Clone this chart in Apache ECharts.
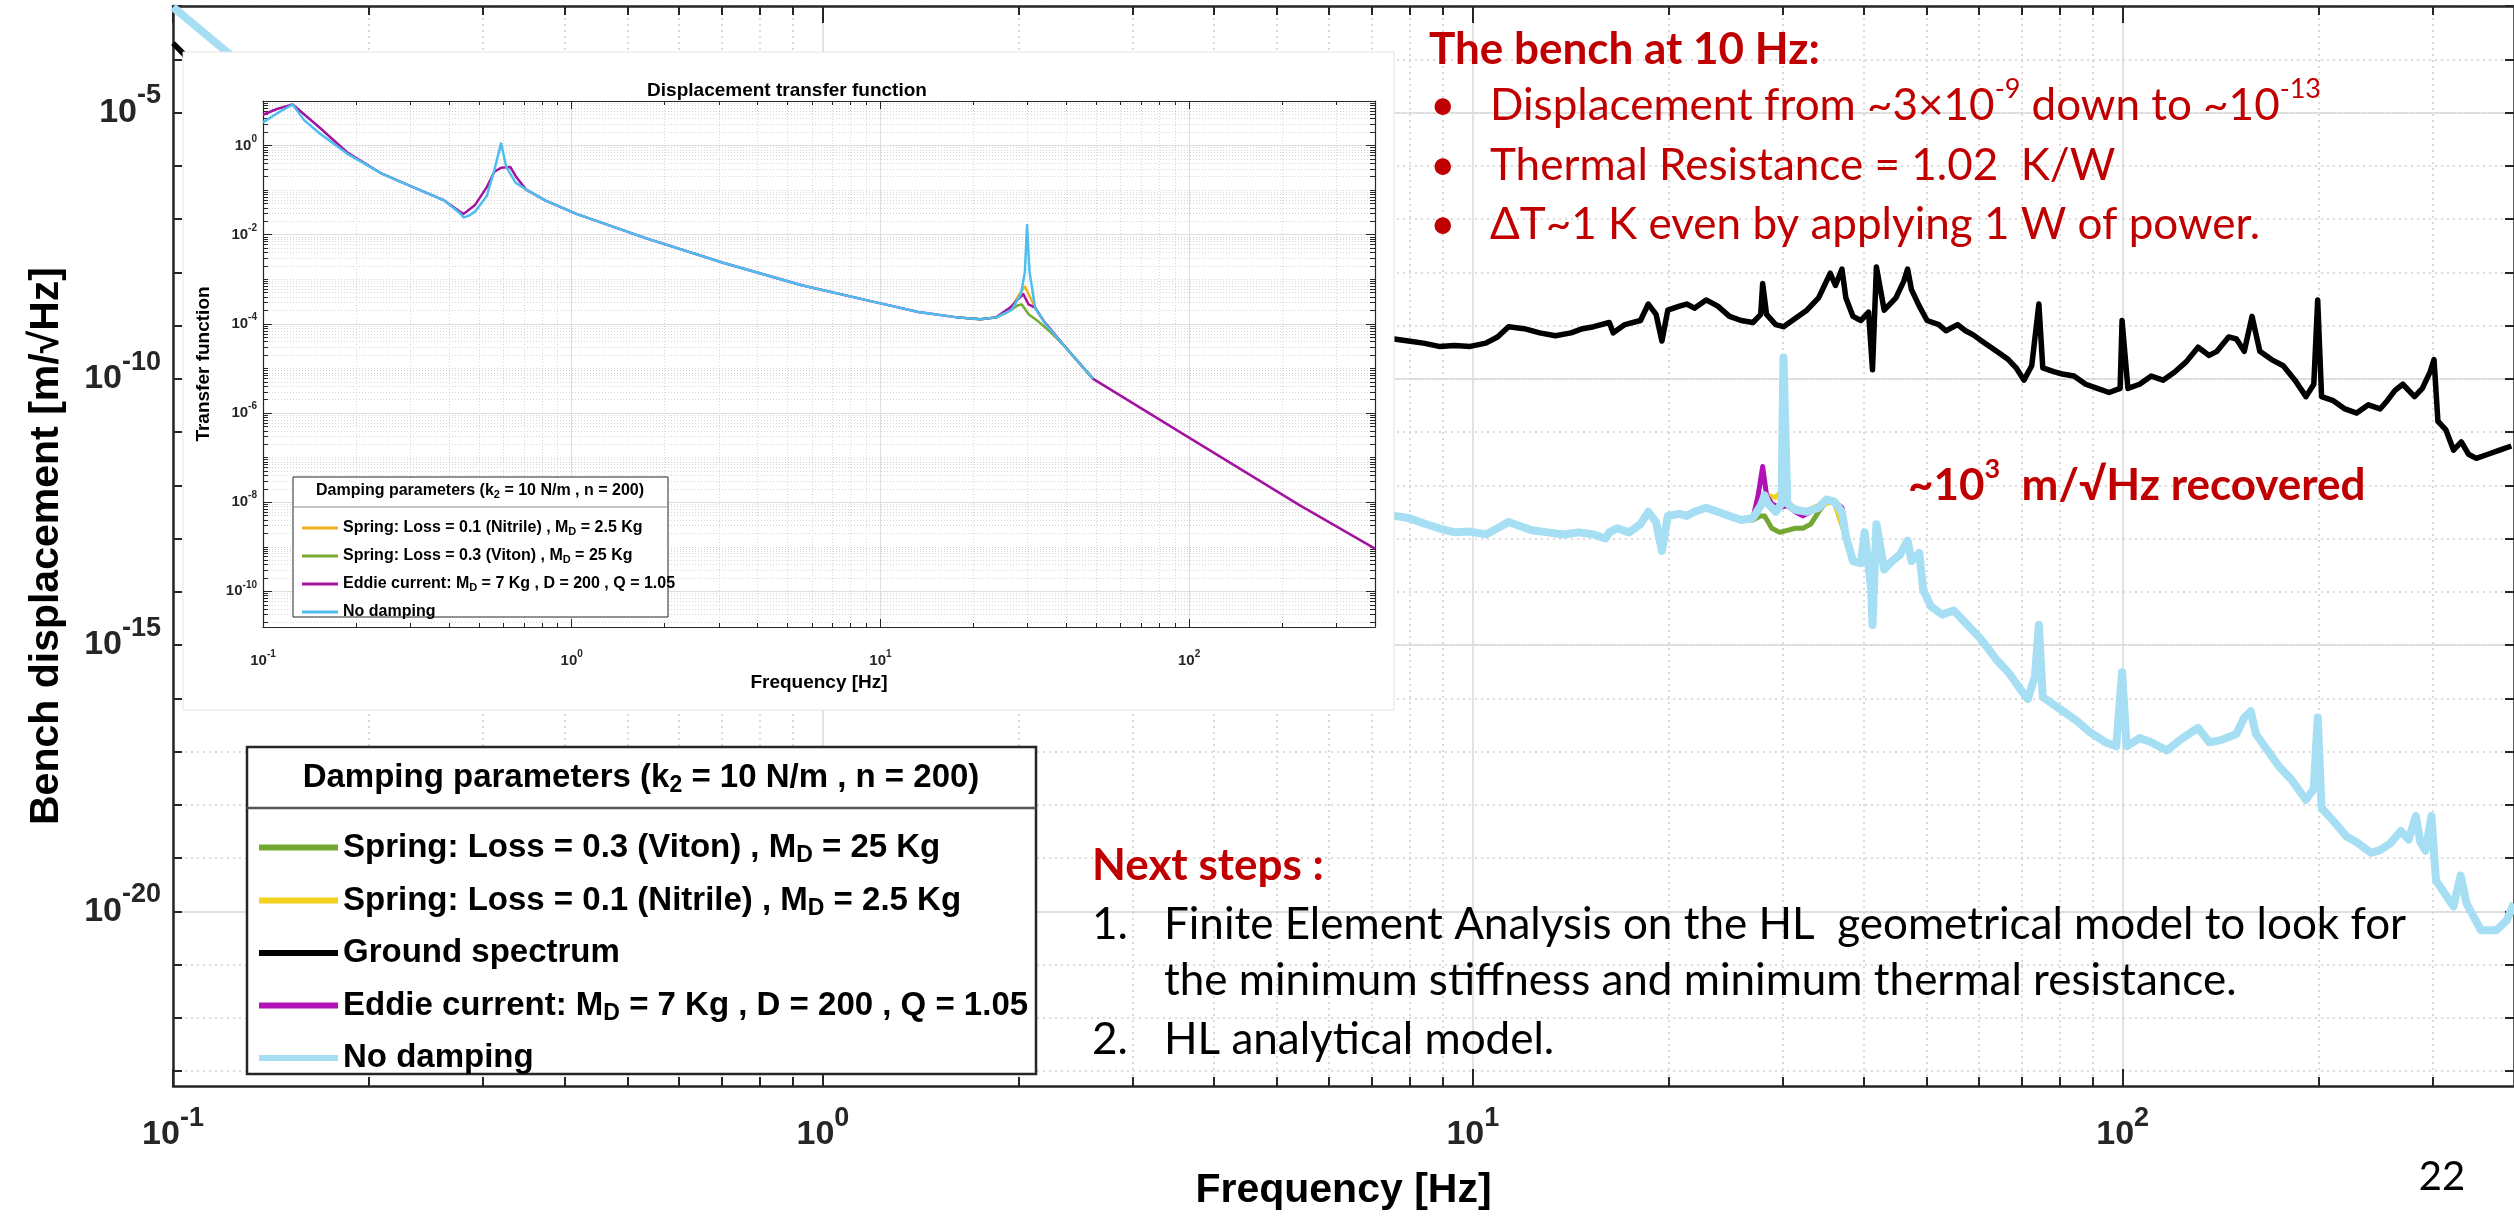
<!DOCTYPE html>
<html><head><meta charset="utf-8">
<script src="https://cdn.jsdelivr.net/npm/echarts@6/dist/echarts.min.js"></script>
<style>html,body{margin:0;padding:0;background:#fff;}#c{width:2514px;height:1216px;}</style>
</head><body><div id="c"></div>
<script>
// ===================== DATA =====================
// All values are log10: x = log10(frequency / Hz), y = log10(value).
// ---- Main plot: bench displacement [m/sqrt(Hz)] ----
const groundLogF = [-1.000,-0.985,-0.966,-0.500,0.860,0.879,0.901,0.924,0.948,0.972,0.996,1.020,1.038,1.055,1.079,1.103,1.127,1.151,1.169,1.186,1.210,1.216,1.234,1.258,1.270,1.282,1.291,1.300,1.318,1.329,1.341,1.359,1.377,1.395,1.413,1.431,1.443,1.446,1.452,1.466,1.478,1.496,1.514,1.532,1.550,1.558,1.568,1.574,1.585,1.597,1.609,1.615,1.621,1.633,1.651,1.663,1.669,1.675,1.687,1.699,1.717,1.728,1.746,1.758,1.770,1.788,1.806,1.824,1.836,1.848,1.860,1.871,1.877,1.895,1.907,1.925,1.943,1.961,1.979,1.996,1.999,2.008,2.026,2.044,2.062,2.080,2.098,2.116,2.133,2.145,2.163,2.175,2.187,2.199,2.211,2.229,2.247,2.265,2.282,2.294,2.300,2.306,2.324,2.342,2.360,2.378,2.396,2.407,2.419,2.431,2.449,2.461,2.473,2.479,2.485,2.497,2.509,2.521,2.532,2.544,2.562,2.580,2.598];
const groundLogD = [-3.696,-3.882,-4.200,null,-9.240,-9.253,-9.291,-9.330,-9.392,-9.376,-9.392,-9.330,-9.214,-9.021,-9.059,-9.137,-9.191,-9.137,-9.059,-9.021,-8.943,-9.137,-8.982,-8.905,-8.596,-8.789,-9.291,-8.712,-8.635,-8.596,-8.673,-8.519,-8.635,-8.828,-8.905,-8.943,-8.789,-8.210,-8.789,-8.982,-9.021,-8.866,-8.712,-8.480,-8.017,-8.248,-7.939,-8.480,-8.828,-8.905,-8.750,-9.832,-7.901,-8.712,-8.480,-8.171,-7.939,-8.326,-8.635,-8.905,-8.982,-9.098,-8.982,-9.098,-9.175,-9.330,-9.484,-9.639,-9.793,-10.025,-9.755,-8.596,-9.793,-9.871,-9.909,-9.948,-10.102,-10.180,-10.257,-10.180,-8.905,-10.180,-10.102,-9.948,-10.025,-9.871,-9.677,-9.407,-9.561,-9.484,-9.214,-9.253,-9.484,-8.828,-9.484,-9.639,-9.755,-10.025,-10.334,-10.102,-8.519,-10.334,-10.411,-10.566,-10.643,-10.489,-10.566,-10.411,-10.218,-10.102,-10.334,-10.180,-9.871,-9.639,-10.797,-10.952,-11.338,-11.184,-11.416,-11.493,-11.416,-11.338,-11.261];

const noDampLogF = [-1.000,-0.917,-0.882,-0.500,0.860,0.879,0.901,0.924,0.948,0.972,0.996,1.020,1.038,1.055,1.073,1.091,1.115,1.139,1.163,1.186,1.204,1.210,1.222,1.240,1.258,1.270,1.282,1.291,1.300,1.318,1.329,1.341,1.359,1.377,1.395,1.413,1.431,1.443,1.449,1.454,1.466,1.475,1.478,1.484,1.496,1.514,1.532,1.544,1.556,1.568,1.574,1.585,1.597,1.603,1.613,1.615,1.621,1.633,1.645,1.657,1.669,1.675,1.687,1.693,1.705,1.722,1.740,1.752,1.770,1.782,1.794,1.806,1.824,1.842,1.854,1.865,1.871,1.877,1.895,1.913,1.931,1.949,1.973,1.990,1.999,2.006,2.026,2.044,2.068,2.092,2.116,2.133,2.151,2.175,2.187,2.197,2.205,2.223,2.241,2.259,2.282,2.294,2.300,2.306,2.324,2.345,2.360,2.382,2.396,2.411,2.428,2.440,2.451,2.458,2.466,2.475,2.482,2.509,2.520,2.529,2.551,2.575,2.591,2.602];
const noDampLogD = [-3.020,-3.863,-4.240,null,-12.570,-12.574,-12.613,-12.713,-12.806,-12.883,-12.868,-12.922,-12.806,-12.690,-12.767,-12.845,-12.883,-12.922,-12.883,-12.922,-12.999,-12.883,-12.806,-12.883,-12.729,-12.497,-12.690,-13.231,-12.574,-12.536,-12.574,-12.497,-12.420,-12.497,-12.574,-12.651,-12.613,-12.381,-12.188,-12.343,-12.497,-12.343,-9.600,-12.343,-12.459,-12.497,-12.420,-12.265,-12.304,-12.497,-12.960,-13.424,-13.463,-12.883,-13.965,-14.621,-12.729,-13.579,-13.424,-13.308,-13.038,-13.424,-13.269,-13.965,-14.274,-14.428,-14.351,-14.506,-14.737,-14.892,-15.085,-15.278,-15.510,-15.819,-16.012,-15.587,-14.621,-15.973,-16.128,-16.282,-16.437,-16.630,-16.823,-16.900,-15.510,-16.900,-16.746,-16.823,-16.978,-16.746,-16.553,-16.823,-16.784,-16.669,-16.360,-16.244,-16.669,-16.978,-17.286,-17.518,-17.904,-17.700,-16.360,-18.059,-18.300,-18.600,-18.700,-18.900,-18.850,-18.730,-18.490,-18.650,-18.210,-18.700,-18.860,-18.210,-19.421,-19.906,-19.328,-19.850,-20.353,-20.353,-20.167,-19.850];

const vitonLogF = [1.413,1.431,1.443,1.449,1.460,1.472,1.484,1.496,1.508,1.520,1.532,1.544,1.556,1.574];
const vitonLogD = [-12.651,-12.650,-12.574,-12.574,-12.806,-12.883,-12.845,-12.806,-12.806,-12.729,-12.497,-12.304,-12.304,-12.960];
const nitrileLogF = [1.413,1.431,1.443,1.454,1.466,1.472,1.478,1.490,1.508,1.532,1.556,1.574];
const nitrileLogD = [-12.651,-12.613,-12.420,-12.188,-12.227,-12.150,-12.265,-12.381,-12.497,-12.381,-12.304,-12.960];
const eddieLogF = [1.413,1.431,1.439,1.446,1.452,1.460,1.472,1.484,1.496,1.508,1.520,1.532,1.544,1.556,1.568,1.574];
const eddieLogD = [-12.651,-12.613,-12.188,-11.647,-12.188,-12.343,-12.420,-12.381,-12.497,-12.574,-12.497,-12.381,-12.265,-12.304,-12.420,-12.960];

// ---- Inset: displacement transfer function ----
const tfNoDampLogF = [-1.000,-0.955,-0.904,-0.867,-0.816,-0.728,-0.615,-0.514,-0.413,-0.363,-0.350,-0.333,-0.313,-0.275,-0.250,-0.229,-0.212,-0.182,-0.149,-0.086,0.015,0.242,0.493,0.745,0.997,1.123,1.249,1.324,1.375,1.425,1.455,1.468,1.475,1.483,1.501,1.538,1.601,1.689];
const tfNoDampLogT = [0.520,0.721,0.921,0.571,0.270,-0.180,-0.631,-0.931,-1.231,-1.512,-1.612,-1.572,-1.481,-1.131,-0.531,0.050,-0.480,-0.831,-0.981,-1.231,-1.532,-2.082,-2.633,-3.133,-3.534,-3.734,-3.854,-3.894,-3.854,-3.684,-3.333,-2.833,-1.782,-2.833,-3.634,-4.034,-4.535,-5.235];
const tfEddieLogF = [-1.000,-0.955,-0.904,-0.816,-0.728,-0.615,-0.514,-0.413,-0.363,-0.350,-0.313,-0.275,-0.250,-0.229,-0.199,-0.182,-0.149,-0.086,0.015,0.242,0.493,0.745,0.997,1.123,1.249,1.324,1.375,1.420,1.445,1.463,1.480,1.501,1.531,1.601,1.689,1.997,2.356,2.602];
const tfEddieLogT = [0.691,0.821,0.921,0.400,-0.150,-0.631,-0.931,-1.231,-1.480,-1.532,-1.331,-0.931,-0.581,-0.500,-0.480,-0.681,-0.981,-1.231,-1.532,-2.082,-2.633,-3.133,-3.534,-3.734,-3.854,-3.894,-3.854,-3.634,-3.453,-3.333,-3.564,-3.634,-3.954,-4.535,-5.235,-6.540,-8.060,-9.040];
const tfVitonLogF = [1.249,1.324,1.375,1.412,1.445,1.458,1.480,1.513,1.551,1.601,1.689];
const tfVitonLogT = [-3.854,-3.894,-3.854,-3.734,-3.584,-3.564,-3.784,-3.954,-4.184,-4.535,-5.235];
const tfNitrileLogF = [1.249,1.324,1.375,1.425,1.450,1.468,1.480,1.501,1.538,1.601,1.689];
const tfNitrileLogT = [-3.854,-3.894,-3.854,-3.634,-3.333,-3.163,-3.333,-3.634,-4.034,-4.535,-5.235];

// ---- Tick labels (exponents of 10) ----
const mainXLabelExp = [-1, 0, 1, 2];
const mainYLabelExp = [-20, -15, -10, -5];
const insetXLabelExp = [-1, 0, 1, 2];
const insetYLabelExp = [-10, -8, -6, -4, -2, 0];

// ===================== LAYOUT / STYLE =====================
const FF = "'Liberation Sans', Arial, Helvetica, sans-serif";
const SF = "Lato, 'Open Sans', sans-serif";
const AX = '#262626';
const RED = '#C00000';
const FMAX = Math.log10(400);
const MAIN_YMIN = -23.28, MAIN_YMAX = -3;
const INS_YMIN = -10.8, INS_YMAX = 1;

const zip = (xs, ys) => xs.map((x, i) => [x, ys[i] === null ? null : ys[i]]);
function range(a, b) { const o = []; for (let i = a; i <= b; i++) o.push(i); return o; }
function minorLog(lo, hi, skip) {
  const o = [];
  for (let n = Math.floor(lo) - 1; n <= Math.ceil(hi); n++) {
    for (let k = 1; k <= 9; k++) {
      if (skip(n, k)) continue;
      const v = +(n + Math.log10(k)).toFixed(6);
      if (v > lo + 1e-6 && v < hi - 1e-6) o.push(v);
    }
  }
  return o;
}
const xMinorTicks = minorLog(-1, FMAX, (n, k) => k === 1);
const mainYTicks = range(-23, -3);
const insYMajor = insetYLabelExp;
const insYMinor = minorLog(INS_YMIN, INS_YMAX, (n, k) => k === 1 && n % 2 === 0);

const pow10 = v => '{b|10}{s|' + Math.round(v) + '}';
const mainRich = {
  b: { fontSize: 34, fontWeight: 'bold', color: AX, fontFamily: FF, lineHeight: 44 },
  s: { fontSize: 27, fontWeight: 'bold', color: AX, fontFamily: FF, lineHeight: 44, padding: [0, 0, 33, 0] }
};
const insRich = {
  b: { fontSize: 15, fontWeight: 'bold', color: AX, fontFamily: FF, lineHeight: 18 },
  s: { fontSize: 10, fontWeight: 'bold', color: AX, fontFamily: FF, lineHeight: 18, padding: [0, 0, 13, 0] }
};

function axis(o) {
  const a = {
    type: 'value', gridIndex: o.grid, min: o.min, max: o.max, position: o.pos, z: o.z || 0,
    silent: true,
    axisLine: { show: !!o.line, onZero: false, lineStyle: { color: AX, width: o.lw || 2.5 } },
    axisTick: { show: !!o.tickLen, inside: true, length: o.tickLen || 5, customValues: o.ticks,
      lineStyle: { color: AX, width: o.tw || 2 } },
    axisLabel: { show: !!o.labels, customValues: o.labels || [], formatter: pow10,
      margin: o.margin || 8, rich: o.rich, hideOverlap: false },
    splitLine: o.split ? { show: true, lineStyle: o.split } : { show: false },
    minorTick: { show: false }, minorSplitLine: { show: false }
  };
  if (o.name) {
    a.name = o.name; a.nameLocation = 'middle'; a.nameGap = o.nameGap;
    a.nameTextStyle = { fontFamily: FF, fontWeight: 'bold', fontSize: o.nameSize, color: '#000' };
  }
  return a;
}

const mainSolid = { color: '#d9d9d9', width: 1.5, type: 'solid' };
const mainDot = { color: '#cfcfcf', width: 1.5, type: [2, 4] };
const insSolid = { color: '#dedede', width: 1, type: 'solid' };
const insDot = { color: '#d6d6d6', width: 1, type: [1, 2] };

const xAxes = [
  // main grid (0)
  axis({ grid: 0, min: -1, max: FMAX, pos: 'bottom', line: true, ticks: mainXLabelExp, tickLen: 17, labels: mainXLabelExp, margin: 27, rich: mainRich, split: mainSolid, name: 'Frequency [Hz]', nameGap: 71, nameSize: 41 }),
  axis({ grid: 0, min: -1, max: FMAX, pos: 'bottom', ticks: xMinorTicks, tickLen: 9, split: mainDot }),
  axis({ grid: 0, min: -1, max: FMAX, pos: 'top', line: true, ticks: mainXLabelExp, tickLen: 17 }),
  axis({ grid: 0, min: -1, max: FMAX, pos: 'top', ticks: xMinorTicks, tickLen: 9 }),
  // inset grid (1)
  axis({ grid: 1, z: 11, min: -1, max: FMAX, pos: 'bottom', line: true, lw: 1.2, tw: 1, ticks: insetXLabelExp, tickLen: 8, labels: insetXLabelExp, margin: 25, rich: insRich, split: insSolid, name: 'Frequency [Hz]', nameGap: 45, nameSize: 19 }),
  axis({ grid: 1, z: 11, min: -1, max: FMAX, pos: 'bottom', tw: 1, ticks: xMinorTicks, tickLen: 4, split: insDot }),
  axis({ grid: 1, z: 11, min: -1, max: FMAX, pos: 'top', line: true, lw: 1.2, tw: 1, ticks: insetXLabelExp, tickLen: 8 }),
  axis({ grid: 1, z: 11, min: -1, max: FMAX, pos: 'top', tw: 1, ticks: xMinorTicks, tickLen: 4 })
];
const yAxes = [
  // main grid (0)
  axis({ grid: 0, min: MAIN_YMIN, max: MAIN_YMAX, pos: 'left', line: true, ticks: mainYTicks, tickLen: 9, labels: mainYLabelExp, margin: 12, rich: mainRich, split: mainDot, name: 'Bench displacement [m/\u221AHz]', nameGap: 106, nameSize: 41 }),
  axis({ grid: 0, min: MAIN_YMIN, max: MAIN_YMAX, pos: 'left', ticks: mainYLabelExp, split: mainSolid }),
  axis({ grid: 0, min: MAIN_YMIN, max: MAIN_YMAX, pos: 'right', line: true, ticks: mainYTicks, tickLen: 9 }),
  // inset grid (1)
  axis({ grid: 1, z: 11, min: INS_YMIN, max: INS_YMAX, pos: 'left', line: true, lw: 1.2, tw: 1, ticks: insYMajor, tickLen: 9, labels: insetYLabelExp, margin: 6, rich: insRich, split: insSolid, name: 'Transfer function', nameGap: 50, nameSize: 19 }),
  axis({ grid: 1, z: 11, min: INS_YMIN, max: INS_YMAX, pos: 'left', tw: 1, ticks: insYMinor, tickLen: 5, split: insDot }),
  axis({ grid: 1, z: 11, min: INS_YMIN, max: INS_YMAX, pos: 'right', line: true, lw: 1.2, tw: 1, ticks: insYMajor, tickLen: 9 }),
  axis({ grid: 1, z: 11, min: INS_YMIN, max: INS_YMAX, pos: 'right', tw: 1, ticks: insYMinor, tickLen: 5 })
];

// series names and their displayed legend texts
const N = {
  viton: 'Spring: Loss = 0.3 (Viton) , MD = 25 Kg',
  nitrile: 'Spring: Loss = 0.1 (Nitrile) , MD = 2.5 Kg',
  ground: 'Ground spectrum',
  eddie: 'Eddie current: MD = 7 Kg , D = 200 , Q = 1.05',
  none: 'No damping',
  tNitrile: 'TF Spring: Loss = 0.1 (Nitrile) , MD = 2.5 Kg',
  tViton: 'TF Spring: Loss = 0.3 (Viton) , MD = 25 Kg',
  tEddie: 'TF Eddie current: MD = 7 Kg , D = 200 , Q = 1.05',
  tNone: 'TF No damping'
};
const LEG = {};
LEG[N.viton] = LEG[N.tViton] = 'Spring: Loss = 0.3 (Viton) , M{d|D} = 25 Kg';
LEG[N.nitrile] = LEG[N.tNitrile] = 'Spring: Loss = 0.1 (Nitrile) , M{d|D} = 2.5 Kg';
LEG[N.ground] = 'Ground spectrum';
LEG[N.eddie] = LEG[N.tEddie] = 'Eddie current: M{d|D} = 7 Kg , D = 200 , Q = 1.05';
LEG[N.none] = LEG[N.tNone] = 'No damping';

function line(name, xi, yi, data, color, width, z) {
  return { name, type: 'line', xAxisIndex: xi, yAxisIndex: yi, data, color, showSymbol: false, symbol: 'none',
    lineStyle: { color, width, join: 'round' }, z: z, connectNulls: false, silent: true, clip: true, animation: false };
}

const series = [
  line(N.ground, 0, 0, zip(groundLogF, groundLogD), '#000000', 5.5, 2),
  line(N.viton, 0, 0, zip(vitonLogF, vitonLogD), '#72A832', 5, 3),
  line(N.nitrile, 0, 0, zip(nitrileLogF, nitrileLogD), '#F2D21A', 5, 3),
  line(N.eddie, 0, 0, zip(eddieLogF, eddieLogD), '#B012B5', 5, 3),
  line(N.none, 0, 0, zip(noDampLogF, noDampLogD), '#A6DEF4', 8, 4),
  line(N.tNitrile, 4, 3, zip(tfNitrileLogF, tfNitrileLogT), '#EDB120', 2.5, 12),
  line(N.tViton, 4, 3, zip(tfVitonLogF, tfVitonLogT), '#77AC30', 2.5, 12),
  line(N.tEddie, 4, 3, zip(tfEddieLogF, tfEddieLogT), '#A2149F', 2.5, 12),
  line(N.tNone, 4, 3, zip(tfNoDampLogF, tfNoDampLogT), '#4DBEEE', 2.5, 13)
];

const txt = (x, y, text, o) => ({ type: 'text', x, y, z: o.z || 30, silent: true,
  style: Object.assign({ text, fill: o.fill || '#000', fontFamily: o.ff || SF, fontSize: o.fs, fontWeight: o.fw || 'normal',
    align: o.align || 'left', verticalAlign: 'middle' }, o.rich ? { rich: o.rich } : {}) });

const supRed = (fs, fw) => ({ sup: { fontSize: Math.round(fs * 0.62), fontWeight: fw, fill: RED, fontFamily: SF, padding: [0, 0, Math.round(fs * 0.75), 0], lineHeight: fs + 6 } });

const TS = 44;
const graphic = [
  // inset panel background
  { type: 'rect', z: 10, silent: true, shape: { x: 183, y: 52, width: 1211, height: 658 }, style: { fill: '#ffffff', stroke: '#e4e4e4', lineWidth: 1 } },
  // main legend box
  { type: 'rect', z: 25, silent: true, shape: { x: 247, y: 747, width: 789, height: 327 }, style: { fill: '#ffffff', stroke: AX, lineWidth: 2.5 } },
  { type: 'line', z: 26, silent: true, shape: { x1: 247, y1: 808, x2: 1036, y2: 808 }, style: { stroke: '#555555', lineWidth: 2.5 } },
  txt(641, 778, 'Damping parameters (k{d|2} = 10 N/m , n = 200)', { ff: FF, fs: 33, fw: 'bold', align: 'center', z: 27,
    rich: { d: { fontSize: 23, fontWeight: 'bold', fontFamily: FF, fill: '#000', padding: [16, 0, 0, 0], lineHeight: 38 } } }),
  // inset legend box
  { type: 'rect', z: 20, silent: true, shape: { x: 293, y: 477, width: 375, height: 140 }, style: { fill: '#ffffff', stroke: AX, lineWidth: 1 } },
  { type: 'line', z: 21, silent: true, shape: { x1: 293, y1: 507, x2: 668, y2: 507 }, style: { stroke: '#8c8c8c', lineWidth: 1 } },
  txt(480, 491, 'Damping parameters (k{d|2} = 10 N/m , n = 200)', { ff: FF, fs: 16, fw: 'bold', align: 'center', z: 22,
    rich: { d: { fontSize: 11, fontWeight: 'bold', fontFamily: FF, fill: '#000', padding: [8, 0, 0, 0], lineHeight: 20 } } }),
  // slide text, top right
  txt(1429, 50, 'The bench at 10 Hz:', { fs: TS, fw: 'bold', fill: RED }),
  txt(1430, 106, '\u2022', { fs: TS, fill: RED }),
  txt(1490, 106, 'Displacement from ~3\u00D710{sup|-9} down to ~10{sup|-13}', { fs: TS, fill: RED, rich: supRed(TS, 'normal') }),
  txt(1430, 166, '\u2022', { fs: TS, fill: RED }),
  txt(1490, 166, 'Thermal Resistance = 1.02  K/W', { fs: TS, fill: RED }),
  txt(1430, 225, '\u2022', { fs: TS, fill: RED }),
  txt(1490, 225, '\u0394T~1 K even by applying 1 W of power.', { fs: TS, fill: RED }),
  txt(1908, 486, '~10{sup|3}  m/\u221AHz recovered', { fs: TS, fw: 'bold', fill: RED, rich: supRed(TS, 'bold') }),
  // slide text, bottom
  txt(1092, 866, 'Next steps :', { fs: TS, fw: 'bold', fill: RED }),
  txt(1092, 925, '1.', { fs: TS }),
  txt(1164, 925, 'Finite Element Analysis on the HL  geometrical model to look for', { fs: TS }),
  txt(1164, 981, 'the minimum stiffness and minimum thermal resistance.', { fs: TS }),
  txt(1092, 1040, '2.', { fs: TS }),
  txt(1164, 1040, 'HL analytical model.', { fs: TS }),
  txt(2442, 1177, '22', { fs: 40, align: 'center' })
];

const option = {
  animation: false,
  backgroundColor: '#ffffff',
  title: { text: 'Displacement transfer function', left: 782, top: 76, textAlign: 'center', z: 15,
    textStyle: { fontFamily: FF, fontWeight: 'bold', fontSize: 19, color: '#000' } },
  grid: [
    { left: 173, top: 6, width: 2341, height: 1088, containLabel: false },
    { left: 263, top: 101, width: 1112, height: 526, containLabel: false, z: 11 }
  ],
  xAxis: xAxes,
  yAxis: yAxes,
  legend: [
    { data: [N.viton, N.nitrile, N.ground, N.eddie, N.none], orient: 'vertical', left: 254, top: 823,
      itemWidth: 79, itemHeight: 6, itemGap: 14, icon: 'rect', z: 30, selectedMode: false,
      lineStyle: { width: 5.5 },
      formatter: n => LEG[n],
      textStyle: { fontFamily: FF, fontWeight: 'bold', fontSize: 33, color: '#000', lineHeight: 38,
        rich: { d: { fontFamily: FF, fontWeight: 'bold', fontSize: 23, color: '#000', padding: [16, 0, 0, 0], lineHeight: 38 } } } },
    { data: [N.tNitrile, N.tViton, N.tEddie, N.tNone], orient: 'vertical', left: 297, top: 513,
      itemWidth: 36, itemHeight: 3, itemGap: 8, icon: 'rect', z: 23, selectedMode: false,
      lineStyle: { width: 2.5 },
      formatter: n => LEG[n],
      textStyle: { fontFamily: FF, fontWeight: 'bold', fontSize: 16, color: '#000', lineHeight: 20,
        rich: { d: { fontFamily: FF, fontWeight: 'bold', fontSize: 11, color: '#000', padding: [8, 0, 0, 0], lineHeight: 20 } } } }
  ],
  graphic: { elements: graphic },
  series
};

const chart = echarts.init(document.getElementById('c'), null, { renderer: 'canvas', width: 2514, height: 1216 });
chart.setOption(option);
</script>
</body></html>
